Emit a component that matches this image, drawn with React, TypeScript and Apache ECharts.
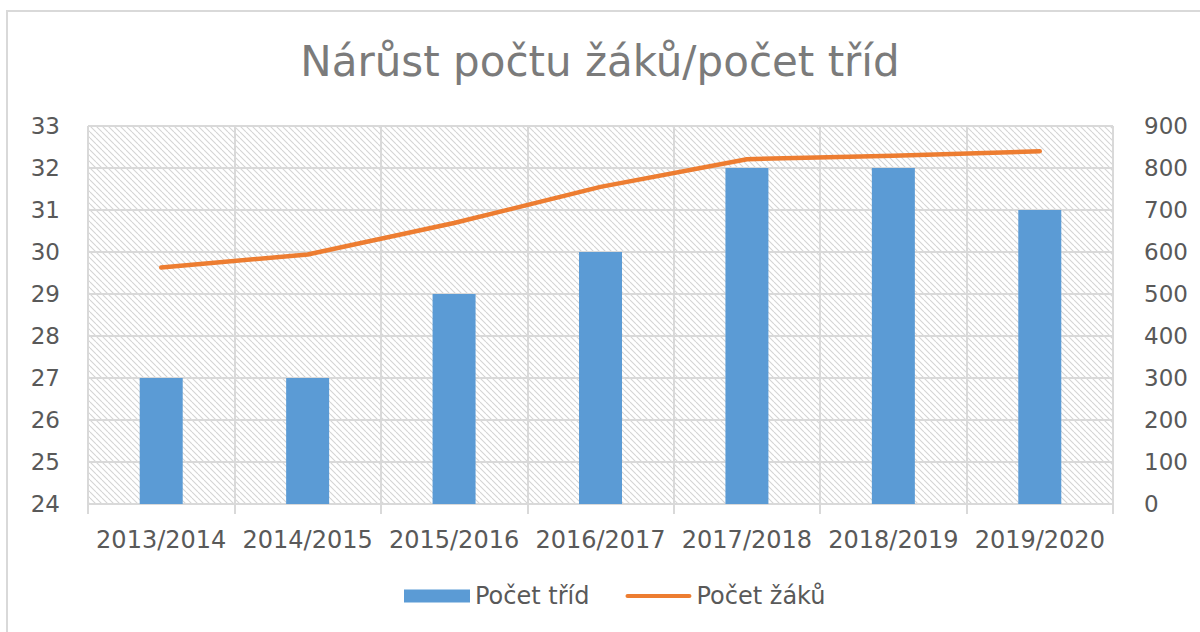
import React, { useEffect, useRef } from "react";
import * as echarts from "echarts";

const titleText = "Nárůst počtu žáků/počet tříd";
const categories = [
  "2013/2014",
  "2014/2015",
  "2015/2016",
  "2016/2017",
  "2017/2018",
  "2018/2019",
  "2019/2020",
];
const classCounts = [27, 27, 29, 30, 32, 32, 31];
const studentCounts = [563, 594, 669, 755, 821, 829, 840];
const seriesNames = ["Počet tříd", "Počet žáků"];
const leftAxisRange = [24, 33, 1];
const rightAxisRange = [0, 900, 100];

function makeHatch(): string {
  const c = document.createElement("canvas");
  c.width = 6;
  c.height = 6;
  const ctx = c.getContext("2d")!;
  ctx.fillStyle = "#ffffff";
  ctx.fillRect(0, 0, 6, 6);
  ctx.strokeStyle = "#d4d4d4";
  ctx.lineWidth = 1.1;
  for (let k = -1; k <= 1; k++) {
    ctx.beginPath();
    ctx.moveTo(k * 6, 0);
    ctx.lineTo(k * 6 + 6, 6);
    ctx.stroke();
  }
  return c.toDataURL();
}

export default function App() {
  const ref = useRef<HTMLDivElement>(null);
  useEffect(() => {
    if (!ref.current) return;
    const chart = echarts.init(ref.current, null, { renderer: "svg" });
    const gray = "#d9d9d9";
    const textColor = "#595959";
    const font = "DejaVu Sans";
    chart.setOption({
      animation: false,
      backgroundColor: "#ffffff",
      title: {
        text: titleText,
        left: "center",
        top: 35,
        textStyle: {
          fontFamily: font,
          fontSize: 42,
          fontWeight: "normal",
          color: "#7b7b7b",
        },
      },
      graphic: [
        {
          type: "rect",
          shape: { x: 7, y: 11, width: 1400, height: 800 },
          style: { fill: "none", stroke: gray, lineWidth: 2 },
          silent: true,
          z: -1,
        },
      ],
      legend: {
        bottom: 19,
        left: 399,
        itemWidth: 66,
        itemHeight: 13,
        itemGap: 36,
        textStyle: { fontFamily: font, fontSize: 24, color: textColor },
        data: [
          { name: seriesNames[0], icon: "rect" },
          {
            name: seriesNames[1],
            icon: "path://M2.25,0h65.5a2.25,2.25 0 0 1 0,4.5h-65.5a2.25,2.25 0 0 1 0,-4.5z",
          },
        ],
      },
      grid: {
        left: 88,
        right: 87,
        top: 126,
        bottom: 128,
        show: true,
        borderWidth: 0,
        backgroundColor: {
          image: makeHatch(),
          repeat: "repeat",
          imageWidth: 6,
          imageHeight: 6,
        },
      },
      xAxis: {
        type: "category",
        data: categories,
        boundaryGap: true,
        axisLine: { show: true, lineStyle: { color: gray, width: 2 } },
        axisTick: {
          show: true,
          length: 10,
          interval: 0,
          lineStyle: { color: gray, width: 2 },
        },
        splitLine: {
          show: true,
          interval: 0,
          lineStyle: { color: gray, width: 2 },
        },
        axisLabel: {
          interval: 0,
          margin: 24,
          fontFamily: font,
          fontSize: 24,
          color: textColor,
        },
      },
      yAxis: [
        {
          type: "value",
          min: leftAxisRange[0],
          max: leftAxisRange[1],
          interval: leftAxisRange[2],
          axisLine: { show: false },
          axisTick: { show: false },
          splitLine: { show: true, lineStyle: { color: gray, width: 2 } },
          axisLabel: {
            margin: 28,
            fontFamily: font,
            fontSize: 23,
            color: textColor,
          },
        },
        {
          type: "value",
          min: rightAxisRange[0],
          max: rightAxisRange[1],
          interval: rightAxisRange[2],
          axisLine: { show: false },
          axisTick: { show: false },
          splitLine: { show: false },
          axisLabel: {
            margin: 31,
            fontFamily: font,
            fontSize: 23,
            color: textColor,
          },
        },
      ],
      series: [
        {
          name: seriesNames[0],
          type: "bar",
          yAxisIndex: 0,
          barWidth: 43,
          data: classCounts,
          itemStyle: { color: "#5b9bd5" },
        },
        {
          name: seriesNames[1],
          type: "line",
          yAxisIndex: 1,
          data: studentCounts,
          symbol: "none",
          smooth: false,
          lineStyle: { color: "#ed7d31", width: 4.5, cap: "round", join: "round" },
          itemStyle: { color: "#ed7d31" },
        },
      ],
    });
    return () => chart.dispose();
  }, []);
  return (
    <div
      ref={ref}
      style={{ position: "absolute", left: 0, top: 0, width: 1200, height: 632 }}
    />
  );
}
